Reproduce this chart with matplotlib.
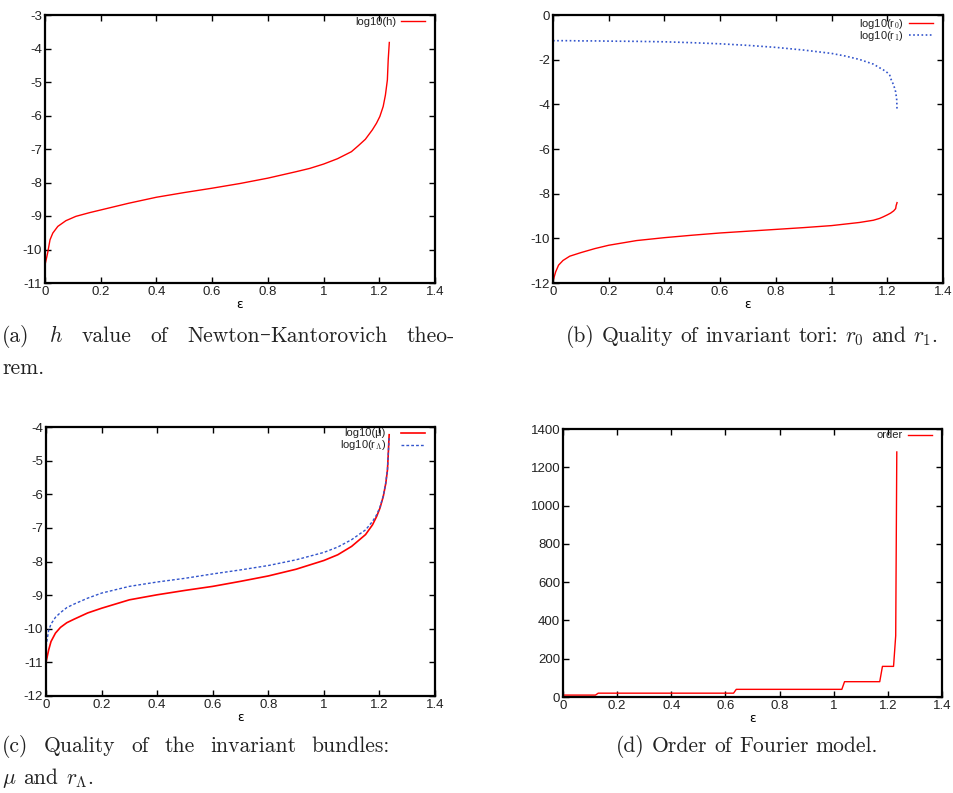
import matplotlib
matplotlib.use("Agg")
import matplotlib.pyplot as plt

# ---------------- data ----------------
eps_a = [0.0, 0.0096, 0.018, 0.028, 0.046, 0.075, 0.111, 0.16, 0.2, 0.3, 0.4, 0.5, 0.6, 0.7, 0.8,
         0.9, 0.95, 1.0, 1.05, 1.1, 1.125, 1.15, 1.175, 1.19, 1.202, 1.214, 1.222, 1.229, 1.232, 1.236]
log_h = [-10.46, -10.1, -9.71, -9.51, -9.31, -9.14, -9.01, -8.9, -8.82, -8.62, -8.44, -8.3, -8.17,
         -8.03, -7.87, -7.68, -7.58, -7.45, -7.29, -7.08, -6.9, -6.71, -6.43, -6.23, -6.03, -5.73,
         -5.39, -4.94, -4.34, -3.82]

eps_b = [0.0, 0.0096, 0.02, 0.036, 0.06, 0.1, 0.15, 0.2, 0.3, 0.4, 0.5, 0.6, 0.7, 0.8, 0.9, 1.0,
         1.05, 1.1, 1.15, 1.172, 1.185, 1.2, 1.209, 1.212, 1.223, 1.23, 1.232, 1.234, 1.235]
log_r0 = [-11.91, -11.5, -11.2, -10.99, -10.8, -10.64, -10.46, -10.31, -10.1, -9.97, -9.86, -9.76,
          -9.68, -9.6, -9.52, -9.43, -9.36, -9.29, -9.19, -9.11, -9.04, -8.95, -8.89, -8.87, -8.77,
          -8.67, -8.52, -8.45, -8.4]
log_r1 = [-1.15, -1.15, -1.15, -1.15, -1.15, -1.16, -1.16, -1.17, -1.18, -1.2, -1.24, -1.29,
          -1.36, -1.45, -1.57, -1.72, -1.84, -1.99, -2.2, -2.36, -2.45, -2.58, -2.7, -2.84,
          -3.14, -3.44, -3.62, -3.81, -4.26]

eps_c = [0.0, 0.0096, 0.018, 0.034, 0.052, 0.075, 0.1, 0.15, 0.2, 0.3, 0.4, 0.5, 0.6, 0.7, 0.8,
         0.9, 1.0, 1.05, 1.1, 1.15, 1.175, 1.19, 1.202, 1.214, 1.223, 1.229, 1.232, 1.235]
log_mu = [-11.0, -10.63, -10.38, -10.13, -9.96, -9.82, -9.72, -9.53, -9.39, -9.14, -8.99, -8.86,
          -8.74, -8.59, -8.43, -8.23, -7.97, -7.8, -7.55, -7.2, -6.91, -6.66, -6.41, -6.06, -5.67,
          -5.27, -4.77, -4.23]
log_rL = [-10.53, -10.05, -9.86, -9.66, -9.52, -9.37, -9.27, -9.09, -8.94, -8.74, -8.61, -8.5,
          -8.37, -8.25, -8.12, -7.95, -7.73, -7.57, -7.35, -7.06, -6.81, -6.61, -6.38, -6.04,
          -5.65, -5.25, -4.77, -4.33]

eps_d = [0.0, 0.12, 0.13, 0.63, 0.64, 1.03, 1.04, 1.17, 1.18, 1.221, 1.229, 1.233]
order = [10, 10, 20, 20, 40, 40, 80, 80, 160, 160, 320, 1280]

xticks = [0, 0.2, 0.4, 0.6, 0.8, 1.0, 1.2, 1.4]
xticklabels = ["0", "0.2", "0.4", "0.6", "0.8", "1", "1.2", "1.4"]

RED = "#ff0000"
BLUE = "#3355cc"

W, H = 954, 793
plt.rcParams['mathtext.fontset'] = 'cm'
fig = plt.figure(figsize=(W / 100, H / 100), dpi=100)


def make_ax(l, t, r, b):
    ax = fig.add_axes([l / W, 1 - b / H, (r - l) / W, (b - t) / H])
    for s in ax.spines.values():
        s.set_linewidth(1.6)
    ax.tick_params(direction='in', top=True, right=True, length=4, width=1,
                   labelsize=9.5, pad=2, colors='black', labelcolor='#222222')
    ax.set_xlim(0, 1.4)
    ax.set_xticks(xticks)
    ax.set_xticklabels(xticklabels, fontfamily='Liberation Sans')
    ax.set_xlabel("ε", fontfamily='DejaVu Sans', fontsize=9, labelpad=0)
    ax._px = (l, t, r, b)
    return ax


def legend(ax, textpad_px=5, spacing=-0.08):
    l, t, r, b = ax._px
    fs = 8
    em = fs * 100 / 72
    leg = ax.legend(loc='upper right', frameon=False, markerfirst=False,
                    prop=dict(family='Liberation Sans', size=fs), handlelength=24 / em,
                    handletextpad=textpad_px / em, borderpad=0, borderaxespad=0,
                    labelspacing=spacing,
                    bbox_to_anchor=(1 - 10 / (r - l), 1 - 1.5 / (b - t)))
    for tx in leg.get_texts():
        tx.set_color('#222222')


def set_yticks(ax, ticks):
    ax.set_yticks(ticks)
    ax.set_yticklabels([str(v) for v in ticks], fontfamily='Liberation Sans')


# (a)
ax = make_ax(45, 15, 435, 283)
ax.plot(eps_a, log_h, color=RED, lw=1.0, label="log10(h)")
ax.set_ylim(-11, -3)
set_yticks(ax, list(range(-11, -2)))
legend(ax)

# (b)
ax = make_ax(553, 15, 943, 283)
ax.plot(eps_b, log_r0, color=RED, lw=1.0, label="log10(r$_0$)")
ax.plot(eps_b, log_r1, color=BLUE, lw=1.2, ls=(0, (1, 1.5)), label="log10(r$_1$)")
ax.set_ylim(-12, 0)
set_yticks(ax, list(range(-12, 1, 2)))
legend(ax, spacing=-0.15)

# (c)
ax = make_ax(46, 427, 435, 696)
ax.plot(eps_c, log_mu, color=RED, lw=1.2, label="log10(μ)")
ax.plot(eps_c, log_rL, color=BLUE, lw=1.0, ls=(0, (2, 1.5)), label="log10(r$_\\Lambda$)")
ax.set_ylim(-12, -4)
set_yticks(ax, list(range(-12, -3)))
legend(ax, textpad_px=15, spacing=0.0)

# (d)
ax = make_ax(563, 429, 942, 697)
ax.plot(eps_d, order, color=RED, lw=1.0, label="order")
ax.set_ylim(0, 1400)
set_yticks(ax, list(range(0, 1401, 200)))
legend(ax)

# ---------------- captions ----------------
CAPFS = 15.5
SERIF = dict(family='cmr10', size=CAPFS, color='#222222')
DASH = dict(family='DejaVu Serif', size=CAPFS, color='#222222')
renderer = fig.canvas.get_renderer()


def place_line(words, x0, y, x1=None, ha='left'):
    """words: list of lists of (text, style) segments; baseline at y (pixels)."""
    items = []
    for word in words:
        segs = []
        for s, st in word:
            t = fig.text(0, 1 - y / H, s, va='baseline', ha='left', **st)
            segs.append((t, t.get_window_extent(renderer).width))
        items.append(segs)
    wwidths = [sum(w for _, w in segs) for segs in items]
    probe = fig.text(0, 0, "a a", **SERIF)
    sw = probe.get_window_extent(renderer).width
    probe.set_text("aa")
    sw -= probe.get_window_extent(renderer).width
    probe.remove()
    gap = sw
    if x1 is not None and len(items) > 1:
        gap = max(sw, (x1 - x0 - sum(wwidths)) / (len(items) - 1))
    total = sum(wwidths) + gap * (len(items) - 1)
    if ha == 'center':
        x0 = x0 - total / 2
    x = x0
    for segs in items:
        for t, w in segs:
            t.set_x(x / W)
            x += w
        x += gap


def words(s):
    return [[(w, SERIF)] for w in s.split()]


line_a1 = (words("(a) $h$ value of") + [[("Newton", SERIF), ("–", DASH), ("Kantorovich", SERIF)]]
           + words("theo-"))
place_line(line_a1, 2, 342, x1=455)
place_line(words("rem."), 2, 374)
place_line(words("(b) Quality of invariant tori: $r_0$ and $r_1$."), 752, 342, ha='center')
place_line(words("(c) Quality of the invariant bundles:"), 2, 752, x1=390)
place_line(words("$\\mu$ and $r_\\Lambda$."), 2, 784)
place_line(words("(d) Order of Fourier model."), 747, 752, ha='center')

fig.savefig("out.png", dpi=100)
